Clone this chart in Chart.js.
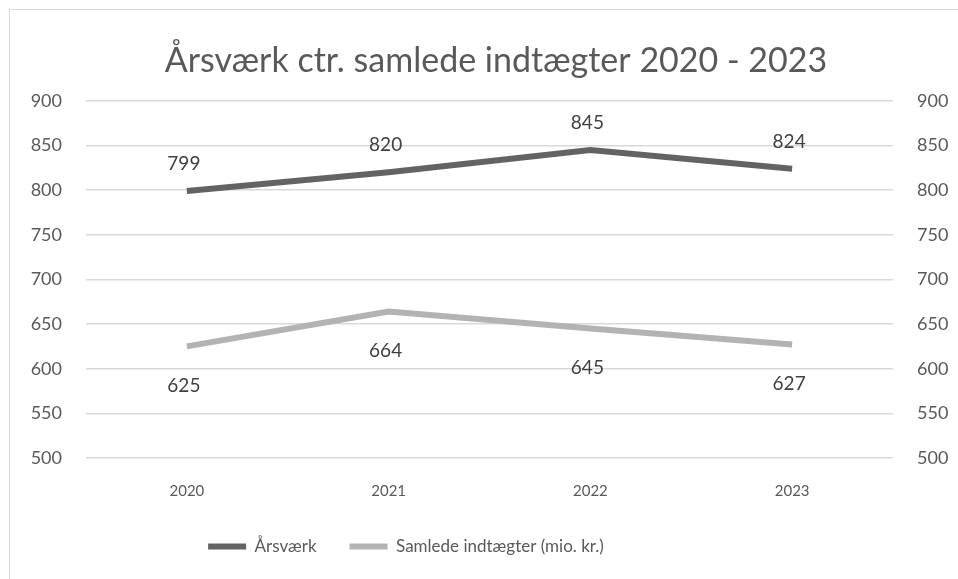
<!DOCTYPE html>
<html>
<head>
<meta charset="utf-8">
<script src="https://cdn.jsdelivr.net/npm/chart.js@4"></script>
<style>
  html, body { margin: 0; padding: 0; background: #fff; overflow: hidden; }
  #wrap { position: absolute; left: 9px; top: 9px; width: 990px; height: 620px;
          border: 1px solid #d9d9d9; box-sizing: border-box; }
  #box { position: absolute; left: 0; top: 0; width: 958px; height: 579px; }
</style>
</head>
<body>
<div id="wrap"></div>
<div id="box"><canvas id="chart"></canvas></div>
<script>
const years = ["2020", "2021", "2022", "2023"];
const aarsvaerk = [799, 820, 845, 824];
const indtaegter = [625, 664, 645, 627];
const yTicks = [500, 550, 600, 650, 700, 750, 800, 850, 900];

const fontFam = "Lato, 'Open Sans', sans-serif";
const txtColor = "#595959";

// simple data labels, above for first series, below for second
const labelPlugin = {
  id: "valLabels",
  afterLayout(chart) {
    // excel box is wider than the window: title sits right of centre, legend left of it
    chart.titleBlock.left += 12;
    chart.titleBlock.right += 12;
    chart.legend.left = 0;
    chart.legend.right = 812;
  },
  afterDatasetsDraw(chart) {
    const ctx = chart.ctx;
    ctx.save();
    ctx.font = "19px " + fontFam;
    ctx.fillStyle = "#404040";
    ctx.textAlign = "center";
    ctx.textBaseline = "middle";
    chart.data.datasets.forEach((ds, i) => {
      const meta = chart.getDatasetMeta(i);
      meta.data.forEach((pt, j) => {
        const dy = i === 0 ? -27 : 39;
        ctx.fillText(ds.data[j], pt.x - 3, pt.y + dy);
      });
    });
    ctx.restore();
  },
};

new Chart(document.getElementById("chart").getContext("2d"), {
  type: "line",
  data: {
    labels: years,
    datasets: [
      {
        label: "Årsværk",
        data: aarsvaerk,
        borderColor: "#636363",
        backgroundColor: "#636363",
        borderWidth: 6,
        pointRadius: 0,
        yAxisID: "y",
      },
      {
        label: "Samlede indtægter (mio. kr.)",
        data: indtaegter,
        borderColor: "#b3b3b3",
        backgroundColor: "#b3b3b3",
        borderWidth: 6,
        pointRadius: 0,
        yAxisID: "y2",
      },
    ],
  },
  options: {
    responsive: true,
    maintainAspectRatio: false,
    animation: false,
    layout: { padding: { left: 10, right: 0, top: 41, bottom: 14 } },
    plugins: {
      tooltip: { enabled: false },
      title: {
        display: true,
        text: "Årsværk ctr. samlede indtægter 2020 - 2023",
        color: txtColor,
        font: { family: fontFam, size: 34, weight: "normal" },
        padding: { top: 0, bottom: 19 },
      },
      legend: {
        position: "bottom",
        labels: {
          color: txtColor,
          font: { family: fontFam, size: 17 },
          boxWidth: 38,
          boxHeight: 6,
          padding: 33,
          generateLabels(chart) {
            return Chart.defaults.plugins.legend.labels
              .generateLabels(chart)
              .map((l) => ({ ...l, lineWidth: 0, strokeStyle: l.fillStyle }));
          },
        },
      },
    },
    scales: {
      x: {
        offset: true,
        afterFit: (s) => { s.height -= 19; },
        grid: { display: false, drawTicks: false },
        border: { display: false },
        ticks: {
          color: txtColor,
          font: { family: fontFam, size: 15 },
          padding: 24,
        },
      },
      y: {
        position: "left",
        min: 500,
        max: 900,
        afterFit: (s) => { s.width = 76; },
        afterBuildTicks: (s) => { s.ticks = yTicks.map((v) => ({ value: v })); },
        grid: { color: "#d9d9d9", lineWidth: 1.5, drawTicks: false },
        border: { display: false },
        ticks: {
          color: txtColor,
          font: { family: fontFam, size: 18 },
          padding: 24,
        },
      },
      y2: {
        position: "right",
        min: 500,
        max: 900,
        afterFit: (s) => { s.width = 65; },
        afterBuildTicks: (s) => { s.ticks = yTicks.map((v) => ({ value: v })); },
        grid: { display: false, drawTicks: false },
        border: { display: false },
        ticks: {
          color: txtColor,
          font: { family: fontFam, size: 18 },
          padding: 24,
        },
      },
    },
  },
  plugins: [labelPlugin],
});
</script>
</body>
</html>
